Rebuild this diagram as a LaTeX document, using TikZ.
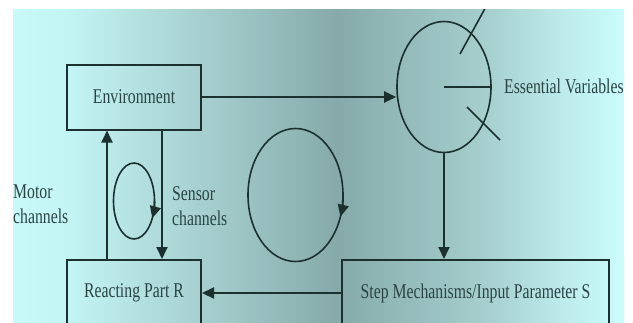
\documentclass[tikz,border=0pt]{standalone}
\usepackage{fontspec}
\setmainfont{Liberation Serif}[FakeStretch=0.75]
\usetikzlibrary{shapes.geometric,arrows.meta}
\definecolor{ink}{HTML}{1C3030}
\definecolor{textink}{HTML}{2A4444}
\definecolor{bgA}{HTML}{C8FAF9}
\definecolor{bgB}{HTML}{C2F4F3}
\definecolor{bgC}{HTML}{A6D0CF}
\definecolor{bgD}{HTML}{86AAAA}
\definecolor{bgE}{HTML}{A4CDCC}
\definecolor{bgF}{HTML}{BFEDED}
\definecolor{bgG}{HTML}{CAFDFD}
% backdrop: pale cyan at both sides, grey teal towards the middle
\pgfdeclarehorizontalshading{backdrop}{100bp}{%
  color(0bp)=(bgA);
  color(25bp)=(bgA);
  color(29.7bp)=(bgB);
  color(40.3bp)=(bgC);
  color(51.5bp)=(bgD);
  color(63.2bp)=(bgE);
  color(70.6bp)=(bgF);
  color(75bp)=(bgG);
  color(100bp)=(bgG)}

\begin{document}
\begin{tikzpicture}[x=1pt,y=-1pt,
  box/.style={draw=ink, line width=2pt, minimum width=134pt, minimum height=65pt, inner sep=0pt},
  lbl/.style={text=textink, font=\fontsize{21}{25}\selectfont, inner sep=0pt},
  flow/.style={draw=ink, line width=1.8pt, -{Triangle[length=12pt,width=11pt]}},
  curve/.style={draw=ink, line width=1.6pt},
]
\useasboundingbox (0,0) rectangle (633,322);
\fill[white] (0,0) rectangle (633,322);
\begin{scope}
  \clip (13,9) rectangle (624,322);
  \shade[shading=backdrop] (13,9) rectangle (624,322);

  % blocks
  \node[box, lbl] (env) at (134,97) {Environment};
  \node[box, lbl, minimum height=66pt] (react) at (134,293) {Reacting Part R};
  \node[box, lbl, minimum width=267pt, minimum height=66pt] (step) at (475.5,293) {Step Mechanisms/Input Parameter S};

  % essential variables dial
  \node[ellipse, curve, minimum width=94pt, minimum height=131pt, inner sep=0pt] (ev) at (444,87) {};
  \coordinate (needleA1) at (460,54);
  \coordinate (needleA2) at (488,3);
  \coordinate (needleB1) at (467,107);
  \coordinate (needleB2) at (500,140);
  \draw[curve] (ev.center) -- (ev.east);
  \draw[curve] (needleA1) -- (needleA2);
  \draw[curve] (needleB1) -- (needleB2);
  \node[lbl, anchor=base west] (evl) at (504,93) {Essential Variables};

  % connectors
  \draw[flow, line width=2.3pt] (env.east) -- (env.east -| ev.west);
  \draw[flow] (ev.south) -- (ev.south |- step.north);
  \draw[flow, line width=2.1pt] (step.west) -- (react.east);
  \coordinate (mx) at (107,0);
  \coordinate (sx) at (162,0);
  \draw[flow] (react.north -| mx) -- (env.south -| mx);
  \draw[flow] (env.south -| sx) -- (react.north -| sx);

  % feedback loops
  \draw[curve] (134,201) ellipse [x radius=20.5, y radius=38];
  \draw[flow] (154.5,201) arc[start angle=0, end angle=27, x radius=20.5, y radius=38];
  \draw[curve] (295.5,195) ellipse [x radius=47.5, y radius=66.5];
  \draw[flow] (343,195) arc[start angle=0, end angle=19, x radius=47.5, y radius=66.5];

  % channel labels
  \node[lbl, align=left, anchor=west] (motor) at (13,204) {Motor\\channels};
  \node[lbl, align=left, anchor=west] (sensor) at (172,206) {Sensor\\channels};
\end{scope}
\end{tikzpicture}
\end{document}
